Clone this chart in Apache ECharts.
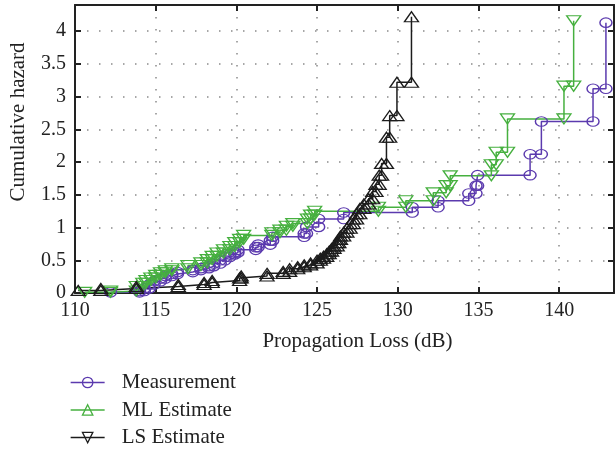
<!DOCTYPE html>
<html>
<head>
<meta charset="utf-8">
<script src="https://cdn.jsdelivr.net/npm/echarts@6/dist/echarts.min.js"></script>
<style>
  html, body { margin: 0; padding: 0; background: #fff; }
  #chart { width: 615px; height: 449px; }
</style>
</head>
<body>
<div id="chart"></div>
<script>
// step positions (dB) and cumulative hazard level after each step
const measX = [112.2, 114.0, 114.3, 114.6, 114.9, 115.3, 115.6, 116.0, 116.35, 117.3, 117.8, 118.3, 118.6, 119.0, 119.3, 119.6, 119.9, 120.1, 121.2, 121.35, 122.1, 122.25, 124.2, 124.35, 125.1, 126.65, 130.9, 132.5, 134.4, 134.85, 134.95, 138.2, 138.9, 142.1, 142.9];
const measY = [0.01, 0.03, 0.07, 0.13, 0.18, 0.22, 0.26, 0.29, 0.32, 0.35, 0.38, 0.41, 0.45, 0.50, 0.55, 0.59, 0.62, 0.66, 0.70, 0.74, 0.80, 0.86, 0.91, 1.01, 1.13, 1.23, 1.31, 1.41, 1.52, 1.64, 1.80, 2.12, 2.62, 3.12, 4.13];

const mlX = [110.6, 112.2, 113.8, 114.2, 114.4, 114.7, 115.0, 115.3, 115.6, 116.0, 117.0, 117.8, 118.2, 118.5, 118.8, 119.2, 119.6, 119.9, 120.2, 120.45, 122.2, 122.7, 123.1, 123.5, 124.4, 124.6, 124.85, 128.8, 130.5, 132.2, 133.0, 133.25, 135.8, 136.1, 136.8, 140.3, 140.9];
const mlY = [0.01, 0.03, 0.10, 0.15, 0.19, 0.23, 0.27, 0.31, 0.34, 0.37, 0.42, 0.46, 0.51, 0.56, 0.61, 0.66, 0.71, 0.77, 0.82, 0.88, 0.92, 0.96, 1.02, 1.06, 1.13, 1.19, 1.25, 1.31, 1.41, 1.53, 1.64, 1.79, 1.96, 2.15, 2.66, 3.16, 4.16];

const lsX = [110.2, 111.6, 113.8, 116.4, 118.0, 118.5, 120.2, 120.3, 121.9, 122.9, 123.3, 123.8, 124.2, 124.6, 125.0, 125.2, 125.4, 125.6, 125.75, 125.9, 126.05, 126.25, 126.35, 126.45, 126.65, 126.85, 127.05, 127.25, 127.45, 127.65, 127.9, 128.2, 128.45, 128.65, 128.85, 129.0, 129.3, 129.5, 129.95, 130.85];
const lsY = [0.04, 0.07, 0.10, 0.13, 0.16, 0.19, 0.23, 0.26, 0.30, 0.33, 0.37, 0.40, 0.43, 0.46, 0.50, 0.53, 0.56, 0.60, 0.64, 0.68, 0.72, 0.77, 0.82, 0.87, 0.93, 0.99, 1.06, 1.13, 1.21, 1.29, 1.36, 1.44, 1.55, 1.66, 1.80, 1.98, 2.38, 2.71, 3.22, 4.22];

const xTicks = [110, 115, 120, 125, 130, 135, 140];

const purple = '#5b3aae';
const green = '#46b03f';
const black = '#1c1c1c';
const font = '"Liberation Serif", "DejaVu Serif", serif';

// stairs path: markers sit on both corners of every step
function stairs(xs, ys) {
  const pts = [[xs[0], ys[0]]];
  for (let i = 1; i < xs.length; i++) {
    pts.push([xs[i], ys[i - 1]]);
    pts.push([xs[i], ys[i]]);
  }
  return pts;
}

function legendItem(name, color, rotate) {
  return {
    name: name,
    symbolRotate: rotate,
    itemStyle: { color: 'rgba(0,0,0,0)', borderColor: color, borderWidth: 1.3 },
    lineStyle: { color: color, width: 1.3 },
  };
}

const chart = echarts.init(document.getElementById('chart'));

const gridLine = { show: true, lineStyle: { color: '#8a8a8a', width: 1.5, type: [1.5, 10.5] } };
const frameLine = { show: true, onZero: false, lineStyle: { color: '#222', width: 2 } };
const frameTick = { inside: true, length: 6, lineStyle: { color: '#222', width: 2 } };

chart.setOption({
  backgroundColor: '#fff',
  animation: false,
  grid: { left: 74, right: 1, top: 5, bottom: 156 },
  legend: {
    orient: 'vertical',
    left: 70,
    top: 372,
    itemWidth: 34,
    itemHeight: 13,
    itemGap: 6.5,
    padding: 0,
    textStyle: { fontFamily: font, fontSize: 21, color: '#222', padding: [0, 0, 0, 12] },
    data: [
      legendItem('Measurement', purple, 0),
      legendItem('ML Estimate', green, 0),
      legendItem('LS Estimate', black, 180),
    ],
  },
  xAxis: [
    {
      type: 'value',
      min: 110,
      max: 143.4,
      interval: 5,
      name: 'Propagation Loss (dB)',
      nameLocation: 'middle',
      nameGap: 38,
      nameTextStyle: { fontFamily: font, fontSize: 21, color: '#222', padding: [0, 0, 0, 26] },
      axisLine: frameLine,
      axisTick: frameTick,
      axisLabel: {
        fontFamily: font, fontSize: 20, color: '#222', margin: 8,
        showMaxLabel: false,
        formatter: v => (xTicks.includes(v) ? String(v) : ''),
      },
      splitLine: gridLine,
    },
    {
      type: 'value',
      position: 'top',
      min: 110,
      max: 143.4,
      interval: 5,
      axisLine: frameLine,
      axisTick: frameTick,
      axisLabel: { show: false },
      splitLine: { show: false },
    },
  ],
  yAxis: [
    {
      type: 'value',
      min: 0,
      max: 4.4,
      interval: 0.5,
      name: 'Cumulative hazard',
      nameLocation: 'middle',
      nameGap: 46,
      nameTextStyle: { fontFamily: font, fontSize: 21, color: '#222', padding: [0, 0, 0, 54] },
      axisLine: frameLine,
      axisTick: frameTick,
      axisLabel: { fontFamily: font, fontSize: 20, color: '#222', margin: 9, showMaxLabel: false },
      splitLine: gridLine,
    },
    {
      type: 'value',
      position: 'right',
      min: 0,
      max: 4.4,
      interval: 0.5,
      axisLine: frameLine,
      axisTick: frameTick,
      axisLabel: { show: false },
      splitLine: { show: false },
    },
  ],
  series: [
    {
      name: 'Measurement',
      type: 'line',
      data: stairs(measX, measY),
      symbol: 'circle',
      symbolSize: [12, 9.5],
      showAllSymbol: true,
      itemStyle: { color: 'rgba(0,0,0,0)', borderColor: purple, borderWidth: 1.3 },
      lineStyle: { color: purple, width: 1.5 },
    },
    {
      name: 'ML Estimate',
      type: 'line',
      data: stairs(mlX, mlY),
      symbol: 'triangle',
      symbolRotate: 180,
      symbolSize: [14, 10],
      showAllSymbol: true,
      itemStyle: { color: 'rgba(0,0,0,0)', borderColor: green, borderWidth: 1.3 },
      lineStyle: { color: green, width: 1.5 },
    },
    {
      name: 'LS Estimate',
      type: 'line',
      data: stairs(lsX, lsY),
      symbol: 'triangle',
      symbolSize: [14, 10],
      showAllSymbol: true,
      itemStyle: { color: 'rgba(0,0,0,0)', borderColor: black, borderWidth: 1.3 },
      lineStyle: { color: black, width: 1.5 },
    },
  ],
});
</script>
</body>
</html>
